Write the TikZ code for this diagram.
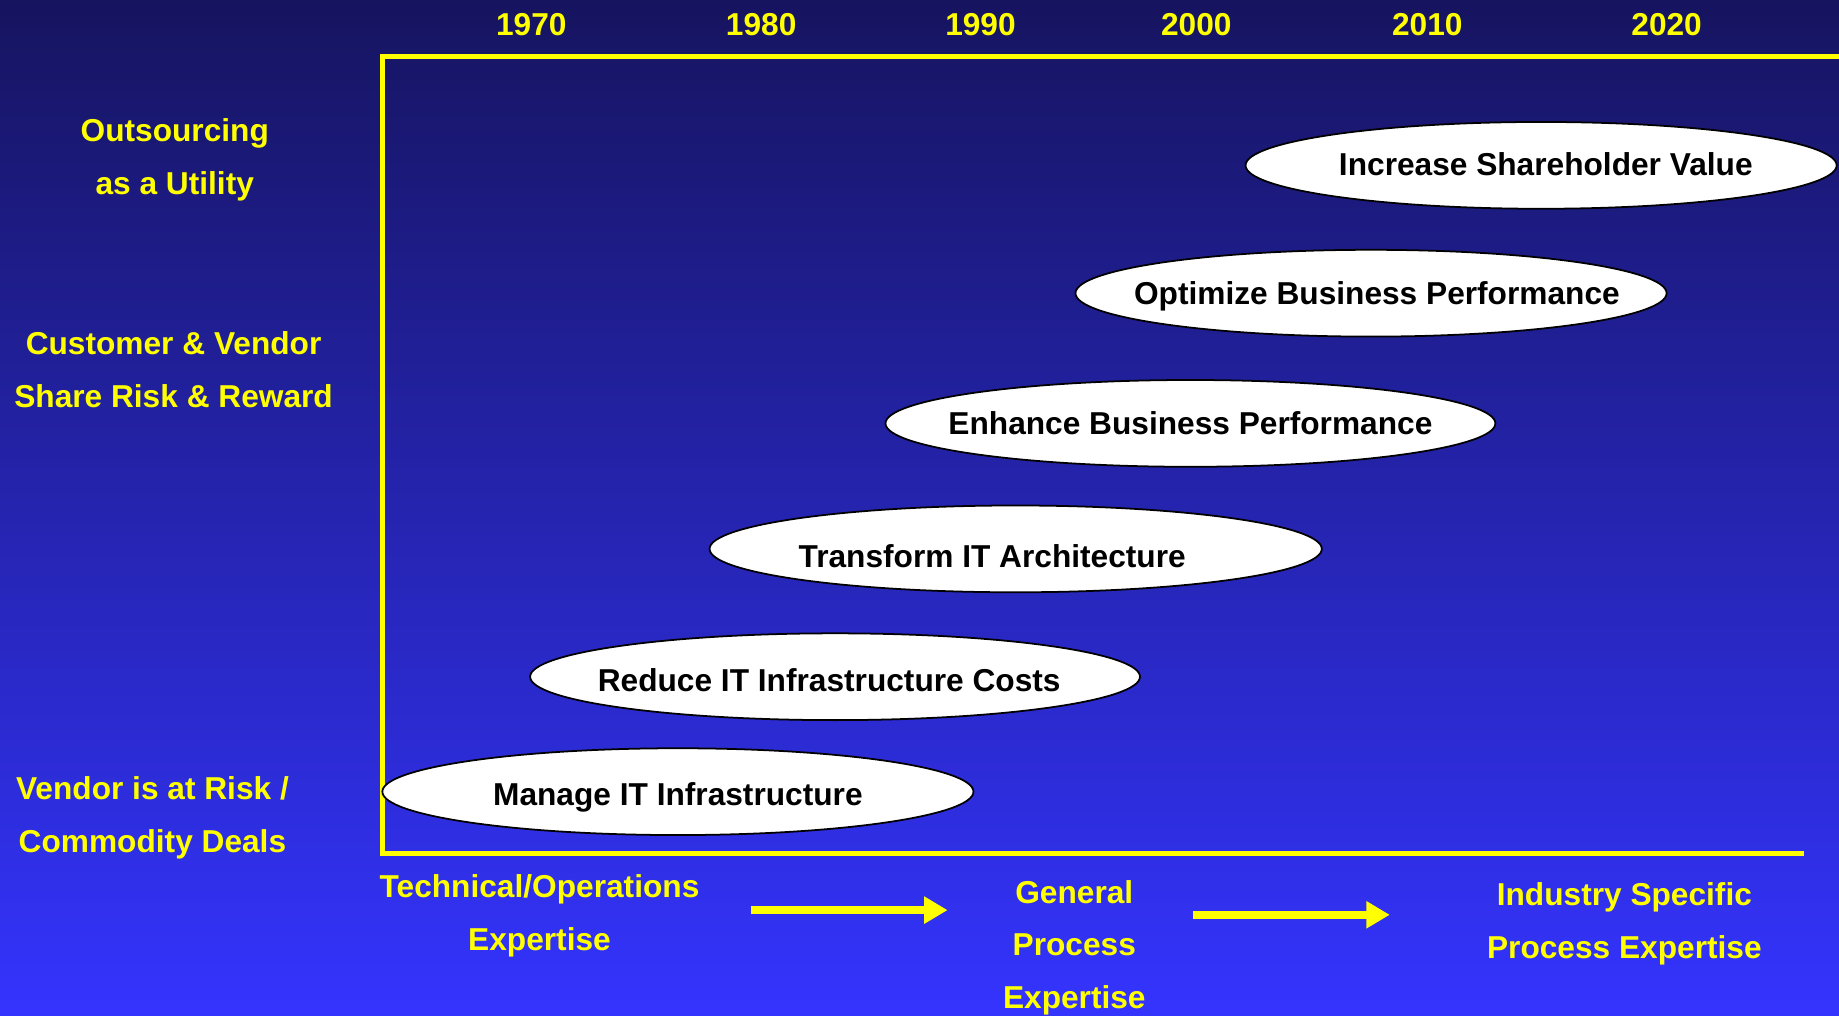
\documentclass[tikz,border=0pt]{standalone}
\usepackage{fontspec}
\setmainfont{Liberation Sans}
\usetikzlibrary{shapes.geometric,arrows.meta}
\definecolor{bgtop}{RGB}{22,20,95}
\definecolor{bgbot}{RGB}{52,52,255}
\definecolor{lab}{RGB}{255,255,0}

\begin{document}
\begin{tikzpicture}[x=1pt,y=1pt,
    lbl/.style={text=lab,font=\bfseries\fontsize{27}{45}\selectfont,align=center,inner sep=0pt},
    bubble/.style={ellipse,draw=black,line width=1.5pt,fill=white,minimum height=74pt,inner sep=0pt},
    btext/.style={font=\bfseries\fontsize{27}{32}\selectfont,inner sep=0pt},
    bigarrow/.style={draw=lab,line width=7pt,-{Triangle[length=20pt,width=22pt]}}]
        \shade[top color=bgtop,bottom color=bgbot] (0,0) rectangle (1568,-866);
        \useasboundingbox (0,0) rectangle (1568,-866);
        % time axis
        \node[lbl] (y70) at (453,-21) {1970};
        \node[lbl] (y80) at (649,-21) {1980};
        \node[lbl] (y90) at (836,-21) {1990};
        \node[lbl] (y00) at (1020,-21) {2000};
        \node[lbl] (y10) at (1217,-21) {2010};
        \node[lbl] (y20) at (1421,-21) {2020};
        \draw[lab,line width=4pt] (1568,-48)--(326,-48)--(326,-728)--(1538,-728);
        % risk levels
        \node[lbl] (util) at (149,-136) {Outsourcing\\as a Utility};
        \node[lbl] (share) at (148,-315) {Customer \& Vendor\\Share Risk \& Reward};
        \node[lbl] (comm) at (130,-697) {Vendor is at Risk /\\Commodity Deals};
        % outsourcing goals
        \node[bubble,minimum width=504pt] (e1) at (1314,-141) {};
        \node[btext] at ([xshift=4pt,yshift=1pt]e1.center) {Increase Shareholder Value};
        \node[bubble,minimum width=504pt] (e2) at (1169,-250) {};
        \node[btext] at ([xshift=5pt,yshift=-3pt]e2.center) {Optimize Business Performance};
        \node[bubble,minimum width=520pt] (e3) at (1015,-361) {};
        \node[btext] at (e3.center) {Enhance Business Performance};
        \node[bubble,minimum width=522pt] (e4) at (866,-468) {};
        \node[btext] at ([xshift=-20pt,yshift=-6pt]e4.center) {Transform IT Architecture};
        \node[bubble,minimum width=520pt] (e5) at (712,-577) {};
        \node[btext] at ([xshift=-5pt,yshift=-3pt]e5.center) {Reduce IT Infrastructure Costs};
        \node[bubble,minimum width=504pt] (e6) at (578,-675) {};
        \node[btext] at ([yshift=-5pt]e6.center) {Manage IT Infrastructure};
        % expertise
        \node[lbl] (tech) at (460,-781) {Technical/Operations\\Expertise};
        \node[lbl] (gen) at (916,-808) {General\\Process\\Expertise};
        \node[lbl] (ind) at (1385,-788) {Industry Specific\\Process Expertise};
        \coordinate (a1s) at (640,-776);
        \coordinate (a1e) at (808,-776);
        \coordinate (a2s) at (1017,-780);
        \coordinate (a2e) at (1185,-780);
        \draw[bigarrow] (a1s)--(a1e);
        \draw[bigarrow] (a2s)--(a2e);
      \end{tikzpicture}
\end{document}
